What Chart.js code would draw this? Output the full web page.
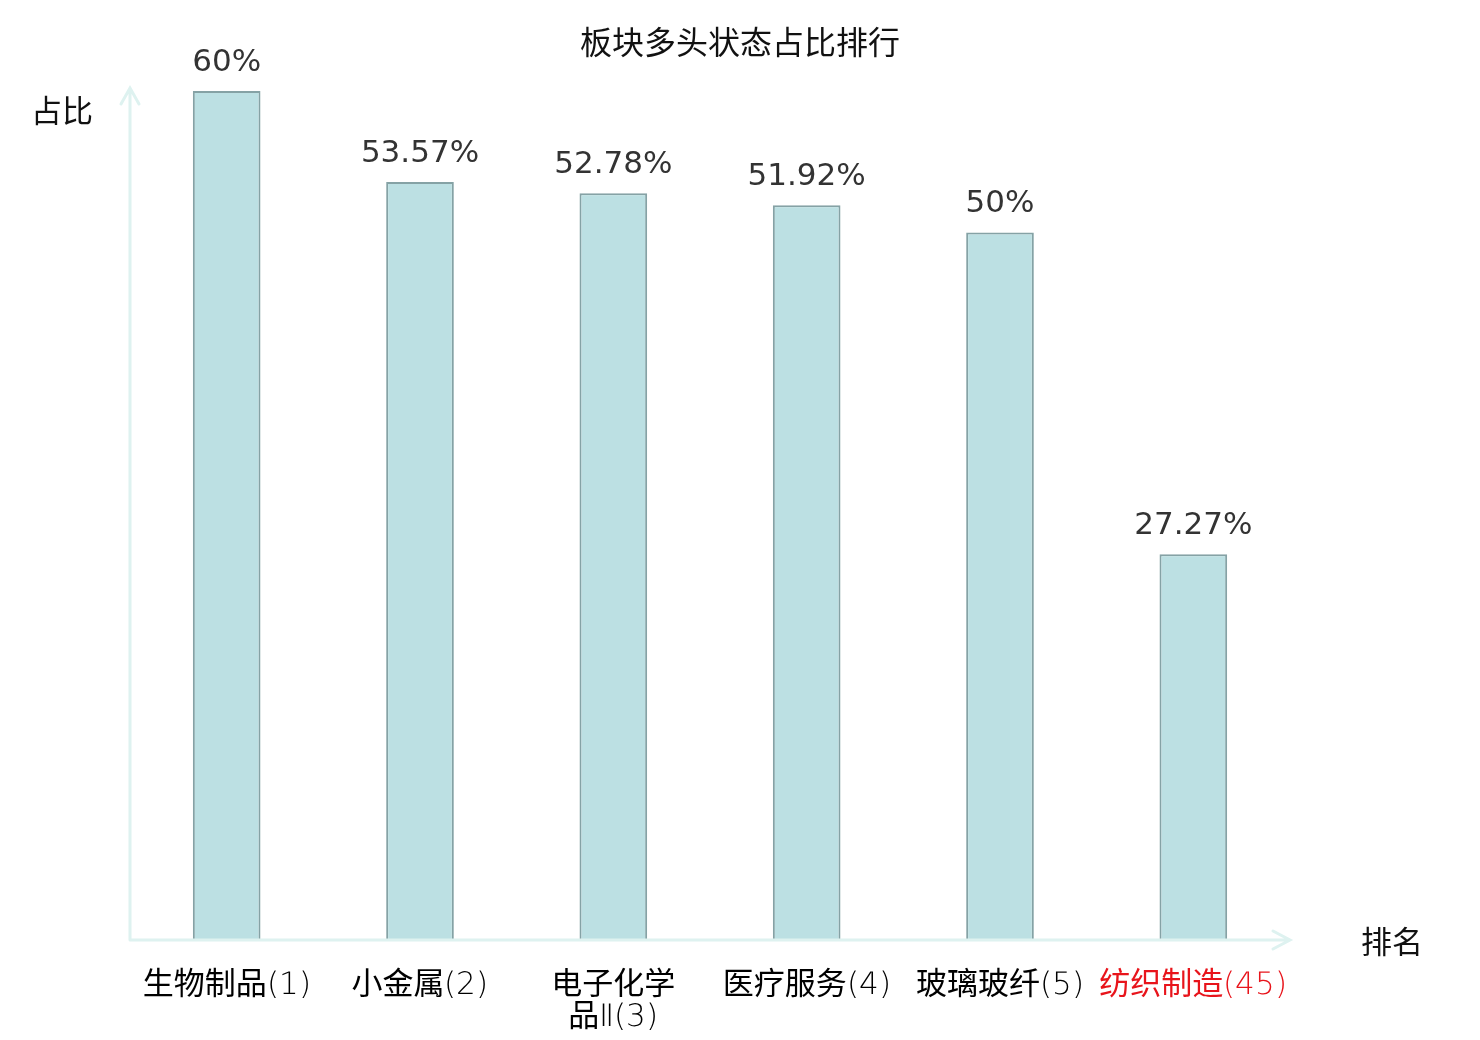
<!DOCTYPE html>
<html>
<head>
<meta charset="utf-8">
<script src="https://cdn.jsdelivr.net/npm/chart.js@4/dist/chart.umd.min.js"></script>
<style>
  @font-face {
      font-family: 'LabelLatin';
      src: local('DejaVu Sans ExtraLight'), local('DejaVuSans-ExtraLight');
      unicode-range: U+0000-00FF, U+2160-2188;
  }
  html, body { margin: 0; padding: 0; background: #fff; }
  #wrap { width: 1480px; height: 1040px; }
</style>
</head>
<body>
<div id="wrap"><canvas id="rankChart"></canvas></div>
<script>
// chart data
const categories = ['生物制品(1)', '小金属(2)', ['电子化学', '品Ⅱ(3)'], '医疗服务(4)', '玻璃玻纤(5)', '纺织制造(45)'];
const shares = [60, 53.57, 52.78, 51.92, 50, 27.27];
const labelColors = ['#000', '#000', '#000', '#000', '#000', '#e8141b'];
const chartTitle = '板块多头状态占比排行';

const colors = {
    barFill: '#bce0e3',
    barBorder: '#85a2a5',
    axis: '#def2f0',
    value: '#333333',
    text: '#111111'
};

const cjkFont = '"Noto Sans CJK SC", "DejaVu Sans", sans-serif';
const labelFont = '"LabelLatin", "Noto Sans CJK SC", sans-serif';
const numFont = '"DejaVu Sans", "Noto Sans CJK SC", sans-serif';

// title, axis lines with arrow heads, axis names
const axisPlugin = {
    id: 'axisArrows',
    afterDatasetsDraw(chart) {
        const { ctx, chartArea } = chart;
        const x0 = chartArea.left, y0 = chartArea.bottom;
        const yTop = chartArea.top - 3, xEnd = chartArea.right;
        ctx.save();
        ctx.strokeStyle = colors.axis;
        ctx.lineWidth = 3;
        ctx.lineCap = 'round';
        ctx.beginPath();
        ctx.moveTo(x0, y0);
        ctx.lineTo(x0, yTop);
        ctx.moveTo(x0 - 9, yTop + 16);
        ctx.lineTo(x0, yTop);
        ctx.lineTo(x0 + 9, yTop + 16);
        ctx.moveTo(x0, y0);
        ctx.lineTo(xEnd, y0);
        ctx.moveTo(xEnd - 17, y0 - 9);
        ctx.lineTo(xEnd, y0);
        ctx.lineTo(xEnd - 17, y0 + 9);
        ctx.stroke();

        ctx.fillStyle = colors.text;
        ctx.font = '31px ' + cjkFont;
        ctx.textBaseline = 'middle';
        ctx.textAlign = 'right';
        ctx.fillText('占比', x0 - 37, 110);
        ctx.textAlign = 'left';
        ctx.fillText('排名', xEnd + 71, y0 + 1);

        ctx.font = '32px ' + cjkFont;
        ctx.textAlign = 'center';
        ctx.fillText(chartTitle, chart.width / 2, 42);
        ctx.restore();
    }
};

// value labels above each bar
const valuePlugin = {
    id: 'valueLabels',
    afterDatasetsDraw(chart) {
        const { ctx } = chart;
        const meta = chart.getDatasetMeta(0);
        ctx.save();
        ctx.fillStyle = colors.value;
        ctx.font = '31px ' + numFont;
        ctx.textAlign = 'center';
        ctx.textBaseline = 'bottom';
        meta.data.forEach(function(bar, i) {
            ctx.fillText(shares[i] + '%', bar.x, bar.y - 13);
        });
        ctx.restore();
    }
};

function drawChart() {
    new Chart(document.getElementById('rankChart').getContext('2d'), {
        type: 'bar',
        data: {
            labels: categories,
            datasets: [{
                label: '占比',
                data: shares,
                backgroundColor: colors.barFill,
                borderColor: colors.barBorder,
                borderWidth: 2,
                barPercentage: 0.7,
                categoryPercentage: 0.5
            }]
        },
        options: {
            responsive: true,
            maintainAspectRatio: false,
            animation: false,
            layout: {
                padding: { left: 130, right: 190, top: 91, bottom: 0 }
            },
            plugins: {
                legend: { display: false },
                tooltip: { enabled: false },
                title: { display: false }
            },
            scales: {
                x: {
                    border: { display: false },
                    grid: { display: false, drawTicks: false },
                    ticks: {
                        color: labelColors,
                        padding: 30,
                        maxRotation: 0,
                        autoSkip: false,
                        font: { family: labelFont, size: 31, lineHeight: 1.03 }
                    },
                    afterFit: function(scale) {
                        scale.height = 100;
                    }
                },
                y: {
                    display: false,
                    min: 0,
                    max: 60
                }
            }
        },
        plugins: [axisPlugin, valuePlugin]
    });
}

// wait for the thin latin face used in the category labels
document.fonts.load('31px LabelLatin', '(1)').then(drawChart, drawChart);
</script>
</body>
</html>
